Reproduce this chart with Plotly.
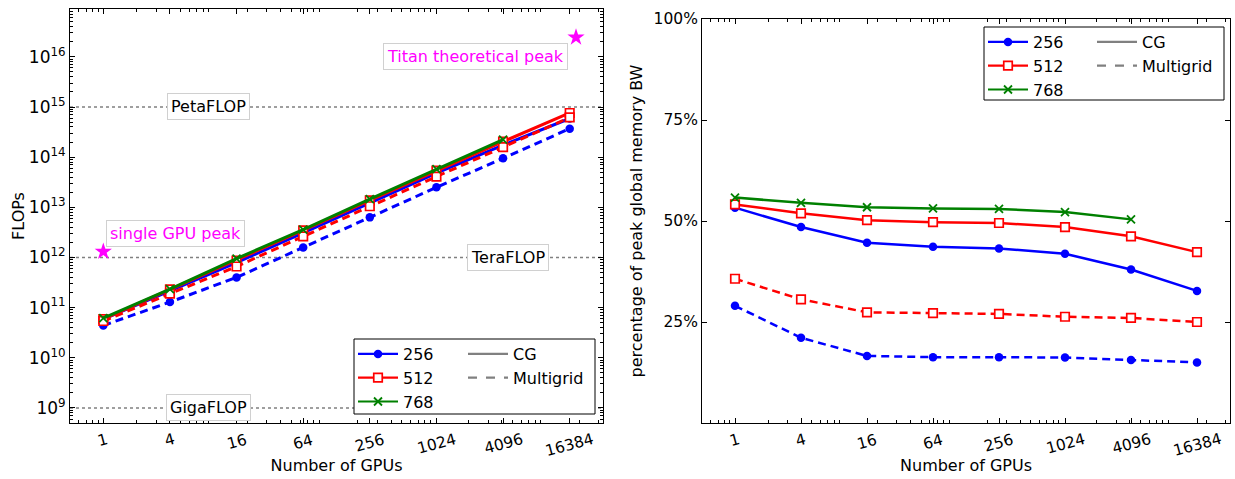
import numpy as np
import plotly.graph_objects as go

# ---------------- data ----------------
gpus = [1, 4, 16, 64, 256, 1024, 4096, 16384]
gpus_768 = [1, 4, 16, 64, 256, 1024, 4096]
gpu_tick_labels = ["1", "4", "16", "64", "256", "1024", "4096", "16384"]

# left panel: FLOPs
flops_256_cg = [5.9e10, 2.14e11, 7.9e11, 3.1e12, 1.23e13, 4.8e13, 1.74e14, 5.9e14]
flops_256_mg = [4.4e10, 1.29e11, 4.0e11, 1.58e12, 6.3e12, 2.5e13, 9.5e13, 3.7e14]
flops_512_cg = [5.9e10, 2.3e11, 8.7e11, 3.47e12, 1.38e13, 5.4e13, 2.04e14, 7.6e14]
flops_512_mg = [5.4e10, 1.9e11, 6.6e11, 2.63e12, 1.05e13, 4.1e13, 1.58e14, 6.2e14]
flops_768_cg = [6.2e10, 2.34e11, 9.5e11, 3.6e12, 1.45e13, 5.75e13, 2.24e14]

# right panel: fraction of peak global memory bandwidth
bw_256_cg = [0.533, 0.485, 0.446, 0.436, 0.432, 0.419, 0.380, 0.327]
bw_256_mg = [0.290, 0.211, 0.166, 0.163, 0.163, 0.162, 0.156, 0.150]
bw_512_cg = [0.541, 0.519, 0.502, 0.497, 0.495, 0.485, 0.462, 0.423]
bw_512_mg = [0.357, 0.306, 0.274, 0.272, 0.270, 0.263, 0.260, 0.250]
bw_768_cg = [0.558, 0.545, 0.534, 0.531, 0.530, 0.522, 0.504]

# reference levels and peaks
milestone_values = [1e9, 1e12, 1e15]
milestone_labels = ["GigaFLOP", "TeraFLOP", "PetaFLOP"]
milestone_label_x = [8.9, 4500, 8.9]
peak_gpus = [1, 18688]
peak_flops = [1.31e12, 2.45e16]
peak_labels = ["single GPU peak", "Titan theoretical peak"]
peak_label_x = [4.5, 2330]
peak_label_y = [3.0e12, 1.0e16]

x_limits = [0.5, 32768]
flops_limits = [5e8, 9e16]
flops_exponents = [9, 10, 11, 12, 13, 14, 15, 16]
bw_limits = [0.0, 1.0]
bw_ticks = [0.25, 0.5, 0.75, 1.0]
bw_tick_labels = ["25%", "50%", "75%", "100%"]

# ---------------- styling ----------------
FONT = "DejaVu Sans"
BLUE, RED, GREEN, MAG = "#0000ff", "#ff0000", "#008000", "#ff00ff"
W, H = 1235, 479

def px_x(p):
    return p / W

def px_y(p):
    return 1 - p / H

# panel frames in pixels: (left, right, top, bottom)
LEFT_BOX = (70, 603, 9, 423)
RIGHT_BOX = (702, 1230, 19, 423)

series_style = {
    "256": dict(color=BLUE, marker=dict(symbol="circle", size=8.5, color=BLUE, line=dict(width=0))),
    "512": dict(color=RED, marker=dict(symbol="square", size=8.5, color="white", line=dict(width=1.7, color=RED))),
    "768": dict(color=GREEN, marker=dict(symbol="x-thin", size=8, color=GREEN, line=dict(width=1.8, color=GREEN))),
}
DASH = "8px,5px"

fig = go.Figure()

def add_series(xs, ys, key, dashed, xa, ya, lw):
    st = series_style[key]
    fig.add_trace(go.Scatter(
        x=xs, y=ys, mode="lines+markers", xaxis=xa, yaxis=ya,
        line=dict(color=st["color"], width=lw, dash=DASH if dashed else "solid"),
        marker=st["marker"], showlegend=False, hoverinfo="skip"))

for v in milestone_values:
    fig.add_trace(go.Scatter(x=x_limits, y=[v, v], mode="lines", xaxis="x", yaxis="y",
                             line=dict(color="gray", width=1.5, dash="dot"),
                             showlegend=False, hoverinfo="skip"))

add_series(gpus, flops_256_cg, "256", False, "x", "y", 3)
add_series(gpus, flops_256_mg, "256", True, "x", "y", 3)
add_series(gpus, flops_512_cg, "512", False, "x", "y", 3)
add_series(gpus, flops_512_mg, "512", True, "x", "y", 3)
add_series(gpus_768, flops_768_cg, "768", False, "x", "y", 3)

fig.add_trace(go.Scatter(x=peak_gpus, y=peak_flops, mode="markers", xaxis="x", yaxis="y",
                         marker=dict(symbol="star", size=13, color=MAG),
                         showlegend=False, hoverinfo="skip"))

add_series(gpus, bw_256_cg, "256", False, "x2", "y2", 2.5)
add_series(gpus, bw_256_mg, "256", True, "x2", "y2", 2.5)
add_series(gpus, bw_512_cg, "512", False, "x2", "y2", 2.5)
add_series(gpus, bw_512_mg, "512", True, "x2", "y2", 2.5)
add_series(gpus_768, bw_768_cg, "768", False, "x2", "y2", 2.5)

# legend entries
for xa, ya, la, lb in [("x", "y", "legend", "legend2"), ("x2", "y2", "legend3", "legend4")]:
    for key in ["256", "512", "768"]:
        st = series_style[key]
        fig.add_trace(go.Scatter(x=[None], y=[None], mode="lines+markers", name=key,
                                 xaxis=xa, yaxis=ya, legend=la,
                                 line=dict(color=st["color"], width=2.2), marker=st["marker"]))
    for name, dash in [("CG", "solid"), ("Multigrid", "dash")]:
        fig.add_trace(go.Scatter(x=[None], y=[None], mode="lines", name=name,
                                 xaxis=xa, yaxis=ya, legend=lb,
                                 line=dict(color="gray", width=2.2, dash=dash)))

x_minor = [m * 10.0 ** k for k in range(-1, 5) for m in range(2, 10)
           if x_limits[0] <= m * 10.0 ** k <= x_limits[1]]
y_minor = [m * 10.0 ** k for k in range(8, 17) for m in range(2, 10)
           if flops_limits[0] <= m * 10.0 ** k <= flops_limits[1]]

def font(size, color="black"):
    return dict(family=FONT, size=size, color=color)

axis_common = dict(showline=True, linecolor="black", linewidth=1, mirror="allticks",
                   ticks="inside", ticklen=5, tickcolor="black", showgrid=False,
                   zeroline=False, automargin=False)

def xaxis_cfg(box):
    return dict(axis_common, type="log",
                domain=[px_x(box[0]), px_x(box[1])],
                range=[np.log10(x_limits[0]), np.log10(x_limits[1])],
                tickmode="array", tickvals=gpus, showticklabels=False,
                minor=dict(tickmode="array", tickvals=x_minor, ticks="inside", ticklen=3,
                           tickcolor="black"),
                title=dict(text="Number of GPUs", font=font(16), standoff=36))

legend_common = dict(bgcolor="rgba(0,0,0,0)", borderwidth=0, xanchor="left", yanchor="top",
                     tracegroupgap=0, itemwidth=40, font=font(16))

annotations = []
for lab, lx, v in zip(milestone_labels, milestone_label_x, milestone_values):
    annotations.append(dict(x=np.log10(lx), y=np.log10(v), xref="x", yref="y", text=lab,
                            showarrow=False, font=font(16),
                            bgcolor="white", bordercolor="#d0d0d0", borderwidth=1, borderpad=3))
for lab, lx, ly in zip(peak_labels, peak_label_x, peak_label_y):
    annotations.append(dict(x=np.log10(lx), y=np.log10(ly), xref="x", yref="y", text=lab,
                            showarrow=False, font=font(16, MAG),
                            bgcolor="white", bordercolor="#d0d0d0", borderwidth=1, borderpad=3))

# rotated, centred x tick labels (as in the original figure)
for xa, box in [("x", LEFT_BOX), ("x2", RIGHT_BOX)]:
    for g, lab in zip(gpus, gpu_tick_labels):
        annotations.append(dict(x=np.log10(g), y=px_y(box[3] + 5), xref=xa, yref="paper",
                                text=lab, showarrow=False, textangle=-15, font=font(15.5),
                                xanchor="center", yanchor="top"))

shapes = [
    dict(type="rect", xref="paper", yref="paper", x0=px_x(354), x1=px_x(595),
         y0=px_y(414), y1=px_y(339), line=dict(color="black", width=1), fillcolor="white",
         layer="above"),
    dict(type="rect", xref="paper", yref="paper", x0=px_x(984), x1=px_x(1224),
         y0=px_y(100), y1=px_y(27), line=dict(color="black", width=1), fillcolor="white",
         layer="above"),
]

fig.update_layout(
    width=W, height=H, margin=dict(l=0, r=0, t=0, b=0, autoexpand=False),
    paper_bgcolor="white", plot_bgcolor="white",
    font=font(15),
    xaxis=dict(xaxis_cfg(LEFT_BOX), anchor="y"),
    yaxis=dict(axis_common, type="log", domain=[px_y(LEFT_BOX[3]), px_y(LEFT_BOX[2])],
               anchor="x", tickfont=font(17),
               range=[np.log10(flops_limits[0]), np.log10(flops_limits[1])],
               tickmode="array", tickvals=[10.0 ** e for e in flops_exponents],
               ticktext=["10<sup>%d</sup>" % e for e in flops_exponents],
               minor=dict(tickmode="array", tickvals=y_minor, ticks="inside", ticklen=3,
                          tickcolor="black"),
               title=dict(text="FLOPs", font=font(16), standoff=0)),
    xaxis2=dict(xaxis_cfg(RIGHT_BOX), anchor="y2"),
    yaxis2=dict(axis_common, domain=[px_y(RIGHT_BOX[3]), px_y(RIGHT_BOX[2])], anchor="x2",
                tickfont=font(15.5),
                range=bw_limits, tickmode="array", tickvals=bw_ticks, ticktext=bw_tick_labels,
                title=dict(text="percentage of peak global memory BW", font=font(16), standoff=6)),
    legend=dict(legend_common, x=px_x(353), y=px_y(337)),
    legend2=dict(legend_common, x=px_x(463), y=px_y(337)),
    legend3=dict(legend_common, x=px_x(983), y=px_y(25)),
    legend4=dict(legend_common, x=px_x(1092), y=px_y(25)),
    annotations=annotations,
    shapes=shapes,
)

fig.write_html("out.html", config={"displayModeBar": False},
               post_script="document.body.style.margin='0px';document.body.style.overflow='hidden';")
